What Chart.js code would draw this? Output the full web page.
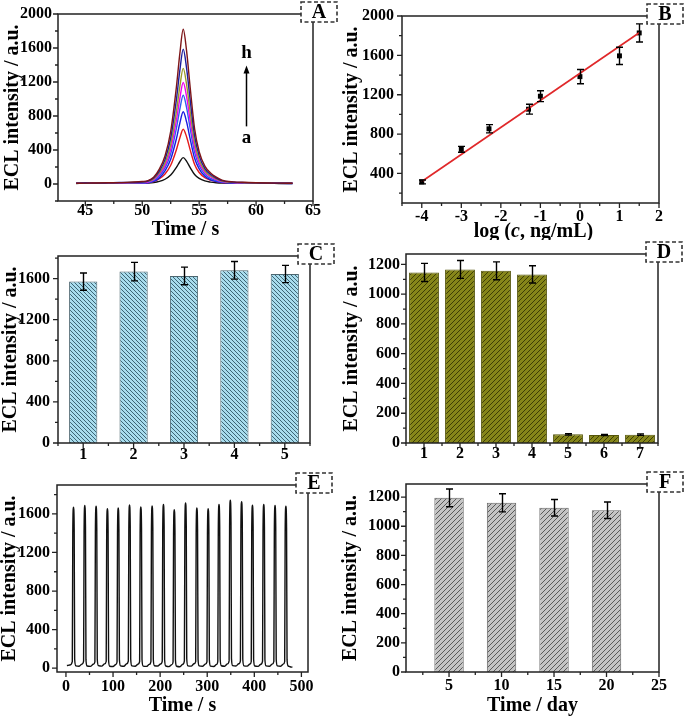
<!DOCTYPE html>
<html>
<head>
<meta charset="utf-8">
<script src="https://cdn.jsdelivr.net/npm/chart.js@4.4.1/dist/chart.umd.min.js"></script>
<style>
  body { margin: 0; background: #fff; }
  #lienzo { position: relative; width: 685px; height: 716px; overflow: hidden; }
  #lienzo canvas { position: absolute; }
</style>
</head>
<body>
<div id="lienzo">
  <canvas id="graficaA" width="340" height="240" style="left:0;top:0"></canvas>
  <canvas id="graficaB" width="345" height="240" style="left:340px;top:0"></canvas>
  <canvas id="graficaC" width="340" height="230" style="left:0;top:240px"></canvas>
  <canvas id="graficaD" width="345" height="230" style="left:340px;top:240px"></canvas>
  <canvas id="graficaE" width="340" height="246" style="left:0;top:470px"></canvas>
  <canvas id="graficaF" width="345" height="246" style="left:340px;top:470px"></canvas>
</div>
<script>
// ---------------- Datos ----------------

// Panel A: curvas ECL (a -> h)
const tiempoA = [44.2, 45, 46, 47, 48, 49, 50, 50.5, 51, 51.5, 52, 52.5, 53, 53.3, 53.6, 53.9, 54.2, 54.6, 55, 55.5, 56, 56.5, 57, 58, 59, 60, 61, 62, 63.2];
const curva_a = [6, 9, 7, 10, 12, 9, 8, 10, 16, 30, 56, 105, 195, 262, 310, 266, 196, 112, 66, 36, 22, 14, 10, 8, 9, 7, 8, 6, 5];
const curva_b = [8, 10, 9, 12, 14, 11, 12, 15, 28, 62, 117, 220, 404, 542, 645, 553, 408, 230, 135, 74, 46, 28, 18, 10, 12, 9, 8, 10, 7];
const curva_c = [7, 8, 11, 9, 13, 10, 10, 14, 30, 72, 154, 290, 532, 715, 850, 728, 537, 303, 178, 90, 50, 30, 18, 12, 11, 8, 10, 7, 6];
const curva_d = [9, 7, 10, 12, 15, 13, 12, 18, 40, 95, 189, 356, 654, 879, 1045, 896, 660, 373, 218, 115, 65, 40, 22, 14, 12, 10, 9, 8, 7];
const curva_e = [8, 10, 12, 11, 14, 16, 16, 24, 50, 115, 216, 408, 748, 1005, 1195, 1024, 755, 427, 250, 137, 85, 52, 30, 18, 13, 11, 9, 10, 8];
const curva_f = [10, 9, 12, 14, 16, 18, 20, 30, 60, 130, 246, 464, 851, 1144, 1360, 1166, 860, 486, 284, 156, 97, 60, 34, 19, 15, 12, 11, 9, 8];
const curva_g = [9, 11, 10, 13, 17, 19, 22, 34, 70, 152, 287, 540, 992, 1333, 1585, 1358, 1002, 566, 331, 182, 112, 70, 40, 22, 16, 13, 10, 9, 8];
const curva_h = [8, 10, 12, 14, 16, 22, 30, 40, 80, 175, 330, 620, 1140, 1530, 1820, 1560, 1150, 650, 380, 210, 130, 80, 45, 25, 20, 15, 12, 10, 8];
const ticksXA = [45, 50, 55, 60, 65];
const ticksYA = [0, 400, 800, 1200, 1600, 2000];

// Panel B: calibración
const logC = [-4, -3, -2.3, -1.3, -1, 0, 1, 1.5];
const eclB = [314, 645, 854, 1053, 1185, 1384, 1595, 1828];
const errB = [20, 30, 42, 50, 55, 72, 88, 92];
const ajusteX = [-4, 1.5];
const ajusteY = [318, 1830];
const ticksXB = [-4, -3, -2, -1, 0, 1, 2];
const ticksYB = [400, 800, 1200, 1600, 2000];

// Panel C: reproducibilidad
const electrodosC = [1, 2, 3, 4, 5];
const eclC = [1571, 1668, 1626, 1681, 1645];
const errC = [84, 90, 86, 86, 84];
const ticksYC = [0, 400, 800, 1200, 1600];

// Panel D: selectividad
const muestrasD = [1, 2, 3, 4, 5, 6, 7];
const eclD = [1146, 1166, 1157, 1133, 58, 54, 56];
const errD = [61, 60, 60, 58, 5, 4, 5];
const ticksYD = [0, 200, 400, 600, 800, 1000, 1200];

// Panel E: estabilidad en barridos continuos
const tiempoE = [
  2, 8,
  13.5, 14.5, 16, 17.5, 18.5, 21, 28, 34,
  37.5, 38.5, 40, 41.5, 42.5, 45, 52, 58,
  61.5, 62.5, 64, 65.5, 66.5, 69, 76, 82,
  85.5, 86.5, 88, 89.5, 90.5, 93, 100, 106,
  108.5, 109.5, 111, 112.5, 113.5, 116, 123, 129,
  132.5, 133.5, 135, 136.5, 137.5, 140, 147, 153,
  156.5, 157.5, 159, 160.5, 161.5, 164, 171, 177,
  180.5, 181.5, 183, 184.5, 185.5, 188, 195, 201,
  204.5, 205.5, 207, 208.5, 209.5, 212, 219, 225,
  227.5, 228.5, 230, 231.5, 232.5, 235, 242, 248,
  251.5, 252.5, 254, 255.5, 256.5, 259, 266, 272,
  275.5, 276.5, 278, 279.5, 280.5, 283, 290, 296,
  299.5, 300.5, 302, 303.5, 304.5, 307, 314, 320,
  322.5, 323.5, 325, 326.5, 327.5, 330, 337, 343,
  346.5, 347.5, 349, 350.5, 351.5, 354, 361, 367,
  370.5, 371.5, 373, 374.5, 375.5, 378, 385, 391,
  393.5, 394.5, 396, 397.5, 398.5, 401, 408, 414,
  417.5, 418.5, 420, 421.5, 422.5, 425, 432, 438,
  441.5, 442.5, 444, 445.5, 446.5, 449, 456, 462,
  464.5, 465.5, 467, 468.5, 469.5, 472, 476, 481
];
const senalE = [
  27, 32,
  68, 1400, 1669, 1450, 95, 24, 20, 42,
  72, 1420, 1687, 1465, 88, 22, 18, 40,
  66, 1410, 1680, 1455, 92, 26, 21, 44,
  70, 1390, 1655, 1430, 85, 20, 17, 38,
  64, 1395, 1662, 1440, 90, 24, 19, 46,
  74, 1430, 1694, 1475, 96, 23, 20, 41,
  69, 1405, 1673, 1450, 89, 21, 18, 39,
  71, 1415, 1683, 1460, 93, 25, 22, 43,
  73, 1425, 1697, 1470, 90, 22, 16, 37,
  65, 1380, 1645, 1425, 86, 20, 15, 40,
  75, 1445, 1714, 1490, 98, 24, 21, 45,
  68, 1395, 1662, 1440, 91, 23, 19, 42,
  66, 1390, 1655, 1435, 87, 21, 17, 39,
  72, 1425, 1697, 1470, 94, 25, 20, 44,
  78, 1470, 1742, 1510, 99, 26, 22, 46,
  76, 1455, 1728, 1500, 95, 24, 21, 43,
  70, 1420, 1690, 1465, 92, 22, 18, 41,
  73, 1425, 1697, 1470, 90, 23, 19, 42,
  71, 1415, 1687, 1460, 93, 24, 20, 44,
  69, 1410, 1680, 1455, 88, 22, 14, 10
];
const ticksXE = [0, 100, 200, 300, 400, 500];
const ticksYE = [0, 400, 800, 1200, 1600];

// Panel F: estabilidad en el tiempo
const diasF = [5, 10, 15, 20];
const eclF = [1195, 1161, 1127, 1110];
const errF = [61, 62, 57, 57];
const ticksXF = [5, 10, 15, 20, 25];
const ticksYF = [0, 200, 400, 600, 800, 1000, 1200];

// ---------------- Estilo general ----------------
const FAMILIA = "'Liberation Serif', 'Times New Roman', serif";
Chart.defaults.font.family = FAMILIA;
Chart.defaults.font.weight = 'bold';
Chart.defaults.color = '#000';
Chart.defaults.animation = false;
Chart.defaults.plugins.legend.display = false;
Chart.defaults.plugins.tooltip.enabled = false;

const fuenteTicks = { family: FAMILIA, size: 16, weight: 'bold', lineHeight: 1 };
const fuenteTitulo = { family: FAMILIA, size: 20, weight: 'bold', lineHeight: 1 };

// Ejes con tamaño fijo para que el área de trazado quede donde la queremos
function ejes(o) {
  return {
    x: {
      type: 'linear', min: o.xMin, max: o.xMax, offset: false,
      grid: { display: false, drawTicks: false },
      border: { display: false },
      afterBuildTicks: s => { s.ticks = o.xTicks.map(v => ({ value: v })); },
      afterFit: s => { s.height = o.altoX; },
      ticks: { padding: o.padX, font: fuenteTicks, color: '#000', maxRotation: 0, autoSkip: false, callback: v => String(v) },
      title: { display: !!o.tituloX, text: o.tituloX || '', font: fuenteTitulo, color: '#000', padding: { top: 0, bottom: 0 } }
    },
    y: {
      type: 'linear', min: o.yMin, max: o.yMax,
      grid: { display: false, drawTicks: false },
      border: { display: false },
      afterBuildTicks: s => { s.ticks = o.yTicks.map(v => ({ value: v })); },
      afterFit: s => { s.width = o.anchoY; },
      ticks: { padding: o.padY, font: fuenteTicks, color: '#000', autoSkip: false, callback: v => String(v) },
      title: { display: true, text: 'ECL intensity / a.u.', font: fuenteTitulo, color: '#000', padding: { top: o.padTituloY, bottom: 0 } }
    }
  };
}

// Marco, marcas de los ejes, barras de error y recuadro con la letra
const marcoPlugin = {
  id: 'marco',
  afterDatasetsDraw(chart, args, opts) {
    const ctx = chart.ctx, a = chart.chartArea;
    const sx = chart.scales.x, sy = chart.scales.y;
    ctx.save();
    if (opts.error) {
      const e = opts.error;
      ctx.strokeStyle = '#000';
      ctx.lineWidth = 1.4;
      e.x.forEach((xv, i) => {
        const px = Math.round(sx.getPixelForValue(xv)) + 0.5;
        const y1 = sy.getPixelForValue(e.y[i] + e.d[i]);
        const y2 = sy.getPixelForValue(e.y[i] - e.d[i]);
        ctx.beginPath();
        ctx.moveTo(px, y1); ctx.lineTo(px, y2);
        ctx.moveTo(px - 3.5, y1); ctx.lineTo(px + 3.5, y1);
        ctx.moveTo(px - 3.5, y2); ctx.lineTo(px + 3.5, y2);
        ctx.stroke();
      });
    }
    ctx.strokeStyle = '#222';
    ctx.lineWidth = 1.5;
    ctx.strokeRect(a.left, a.top, a.right - a.left, a.bottom - a.top);

    const marcas = (escala, paso, mayores, dibuja) => {
      const k0 = Math.ceil(escala.min / paso - 1e-9), k1 = Math.floor(escala.max / paso + 1e-9);
      for (let k = k0; k <= k1; k++) {
        const v = k * paso;
        const largo = mayores.some(m => Math.abs(m - v) < 1e-6) ? 5 : 3;
        dibuja(escala.getPixelForValue(v), largo);
      }
    };
    ctx.lineWidth = 1.3;
    ctx.beginPath();
    marcas(sx, opts.pasoX, opts.mayoresX, (p, l) => { ctx.moveTo(p, a.bottom); ctx.lineTo(p, a.bottom + l); });
    marcas(sy, opts.pasoY, opts.mayoresY, (p, l) => { ctx.moveTo(a.left, p); ctx.lineTo(a.left - l, p); });
    ctx.stroke();

    const bx = a.right - 12, by = a.top - 12;
    ctx.fillStyle = '#fff';
    ctx.fillRect(bx, by, 36, 20);
    ctx.setLineDash([4, 2.5]);
    ctx.lineWidth = 1.6;
    ctx.strokeStyle = '#333';
    ctx.strokeRect(bx, by, 36, 20);
    ctx.setLineDash([]);
    ctx.fillStyle = '#000';
    ctx.font = "bold 20px " + FAMILIA;
    ctx.textAlign = 'center';
    ctx.textBaseline = 'middle';
    ctx.fillText(opts.letra, bx + 18, by + 11);
    ctx.restore();
  }
};

// Flecha a -> h del panel A
const notasPlugin = {
  id: 'notas',
  afterDatasetsDraw(chart, args, o) {
    const ctx = chart.ctx, sx = chart.scales.x, sy = chart.scales.y;
    const x = Math.round(sx.getPixelForValue(o.x)) + 0.5;
    const y0 = sy.getPixelForValue(o.desde), y1 = sy.getPixelForValue(o.hasta);
    ctx.save();
    ctx.strokeStyle = '#000';
    ctx.fillStyle = '#000';
    ctx.lineWidth = 1.5;
    ctx.beginPath(); ctx.moveTo(x, y0); ctx.lineTo(x, y1 + 6); ctx.stroke();
    ctx.beginPath(); ctx.moveTo(x, y1); ctx.lineTo(x - 3, y1 + 8); ctx.lineTo(x + 3, y1 + 8); ctx.closePath(); ctx.fill();
    ctx.font = "bold 19px " + FAMILIA;
    ctx.textAlign = 'center';
    ctx.textBaseline = 'middle';
    ctx.fillText('h', x, sy.getPixelForValue(o.yH));
    ctx.fillText('a', x, sy.getPixelForValue(o.yA));
    ctx.restore();
  }
};

// Título del eje x del panel B (con la c en cursiva)
const tituloLogPlugin = {
  id: 'tituloLog',
  afterDraw(chart) {
    const ctx = chart.ctx, a = chart.chartArea;
    const partes = [['log (', 'bold'], ['c', 'italic bold'], [', ng/mL)', 'bold']];
    ctx.save();
    ctx.fillStyle = '#000';
    ctx.textBaseline = 'middle';
    ctx.textAlign = 'left';
    let total = 0;
    partes.forEach(p => { ctx.font = p[1] + ' 20px ' + FAMILIA; total += ctx.measureText(p[0]).width; });
    let x = (a.left + a.right) / 2 - total / 2 + 3;
    const y = chart.scales.x.bottom - 8;
    partes.forEach(p => {
      ctx.font = p[1] + ' 20px ' + FAMILIA;
      ctx.fillText(p[0], x, y);
      x += ctx.measureText(p[0]).width;
    });
    ctx.restore();
  }
};

// Rayado diagonal para las barras
function rayado(fondo, linea, paso, sentido) {
  const c = document.createElement('canvas');
  c.width = paso; c.height = paso;
  const g = c.getContext('2d');
  g.fillStyle = fondo;
  g.fillRect(0, 0, paso, paso);
  g.strokeStyle = linea;
  g.lineWidth = 1;
  g.beginPath();
  if (sentido === '/') {
    g.moveTo(0, paso); g.lineTo(paso, 0);
    g.moveTo(-1, 1); g.lineTo(1, -1);
    g.moveTo(paso - 1, paso + 1); g.lineTo(paso + 1, paso - 1);
  } else {
    g.moveTo(0, 0); g.lineTo(paso, paso);
    g.moveTo(-1, paso - 1); g.lineTo(1, paso + 1);
    g.moveTo(paso - 1, -1); g.lineTo(paso + 1, 1);
  }
  g.stroke();
  return g.createPattern(c, 'repeat');
}

const puntos = (xs, ys) => xs.map((x, i) => ({ x: x, y: ys[i] }));

// ---------------- Panel A ----------------
const curvasA = [
  { datos: curva_h, color: '#7d1518' },
  { datos: curva_g, color: '#1c1c9c' },
  { datos: curva_f, color: '#9a9a28' },
  { datos: curva_e, color: '#f000f0' },
  { datos: curva_d, color: '#2f5cf0' },
  { datos: curva_c, color: '#1a1ae0' },
  { datos: curva_b, color: '#e41a1a' },
  { datos: curva_a, color: '#111111' }
];
new Chart(document.getElementById('graficaA'), {
  type: 'line',
  data: {
    datasets: curvasA.map(c => ({
      data: puntos(tiempoA, c.datos),
      borderColor: c.color, borderWidth: 1.4, pointRadius: 0, cubicInterpolationMode: 'monotone'
    }))
  },
  options: {
    responsive: false,
    layout: { padding: { left: 0, top: 13, right: 27, bottom: 0 } },
    scales: ejes({ xMin: 42.6, xMax: 65, yMin: -200, yMax: 2000, xTicks: ticksXA, yTicks: ticksYA,
      altoX: 39, anchoY: 58, padX: 2, padY: 6, padTituloY: 2.5, tituloX: 'Time / s' }),
    plugins: {
      marco: { letra: 'A', pasoX: 2.5, pasoY: 200, mayoresX: ticksXA, mayoresY: ticksYA },
      notas: { x: 59.15, desde: 678, hasta: 1395, yH: 1535, yA: 545 }
    }
  },
  plugins: [marcoPlugin, notasPlugin]
});

// ---------------- Panel B ----------------
new Chart(document.getElementById('graficaB'), {
  type: 'scatter',
  data: {
    datasets: [
      { data: puntos(ajusteX, ajusteY), showLine: true, borderColor: '#e0282a', borderWidth: 1.7, pointRadius: 0 },
      { data: puntos(logC, eclB), pointStyle: 'rect', pointRadius: 3.5, backgroundColor: '#000', borderColor: '#000', borderWidth: 0 }
    ]
  },
  options: {
    responsive: false,
    layout: { padding: { left: 0, top: 13, right: 26, bottom: 0 } },
    scales: ejes({ xMin: -4.5, xMax: 2, yMin: 100, yMax: 2000, xTicks: ticksXB, yTicks: ticksYB,
      altoX: 37, anchoY: 62, padX: 6, padY: 8, padTituloY: 1.5 }),
    plugins: {
      marco: { letra: 'B', pasoX: 0.5, pasoY: 200, mayoresX: ticksXB, mayoresY: ticksYB,
        error: { x: logC, y: eclB, d: errB } }
    }
  },
  plugins: [marcoPlugin, tituloLogPlugin]
});

// ---------------- Panel C ----------------
new Chart(document.getElementById('graficaC'), {
  type: 'bar',
  data: {
    datasets: [{
      data: puntos(electrodosC, eclC),
      backgroundColor: rayado('#a8dced', '#3d6575', 4, '\\'),
      borderColor: '#4d6670', borderWidth: 1,
      barPercentage: 0.56, categoryPercentage: 1
    }]
  },
  options: {
    responsive: false,
    layout: { padding: { left: 0, top: 16, right: 30, bottom: 0 } },
    scales: ejes({ xMin: 0.5, xMax: 5.5, yMin: 0, yMax: 1820, xTicks: electrodosC, yTicks: ticksYC,
      altoX: 27, anchoY: 58, padX: 4, padY: 8, padTituloY: 1 }),
    plugins: {
      marco: { letra: 'C', pasoX: 0.5, pasoY: 200, mayoresX: electrodosC, mayoresY: ticksYC,
        error: { x: electrodosC, y: eclC, d: errC } }
    }
  },
  plugins: [marcoPlugin]
});

// ---------------- Panel D ----------------
new Chart(document.getElementById('graficaD'), {
  type: 'bar',
  data: {
    datasets: [{
      data: puntos(muestrasD, eclD),
      backgroundColor: rayado('#86861a', '#3e3e05', 5, '/'),
      borderColor: '#55550a', borderWidth: 1,
      barPercentage: 0.83, categoryPercentage: 1
    }]
  },
  options: {
    responsive: false,
    layout: { padding: { left: 0, top: 13, right: 27, bottom: 0 } },
    scales: ejes({ xMin: 0.5, xMax: 7.5, yMin: 0, yMax: 1270, xTicks: muestrasD, yTicks: ticksYD,
      altoX: 27, anchoY: 66, padX: 3, padY: 6, padTituloY: 1.5 }),
    plugins: {
      marco: { letra: 'D', pasoX: 0.5, pasoY: 100, mayoresX: muestrasD, mayoresY: ticksYD,
        error: { x: muestrasD, y: eclD, d: errD } }
    }
  },
  plugins: [marcoPlugin]
});

// ---------------- Panel E ----------------
new Chart(document.getElementById('graficaE'), {
  type: 'line',
  data: {
    datasets: [{ data: puntos(tiempoE, senalE), borderColor: '#111', borderWidth: 1.4, pointRadius: 0, cubicInterpolationMode: 'monotone' }]
  },
  options: {
    responsive: false,
    layout: { padding: { left: 0, top: 15, right: 32, bottom: 0 } },
    scales: ejes({ xMin: -19, xMax: 514, yMin: -40, yMax: 1900, xTicks: ticksXE, yTicks: ticksYE,
      altoX: 44, anchoY: 57, padX: 7, padY: 7, padTituloY: 0, tituloX: 'Time / s' }),
    plugins: {
      marco: { letra: 'E', pasoX: 50, pasoY: 200, mayoresX: ticksXE, mayoresY: ticksYE }
    }
  },
  plugins: [marcoPlugin]
});

// ---------------- Panel F ----------------
new Chart(document.getElementById('graficaF'), {
  type: 'bar',
  data: {
    datasets: [{
      data: puntos(diasF, eclF),
      backgroundColor: rayado('#c4c4c4', '#5a5a5a', 5, '/'),
      borderColor: '#666', borderWidth: 1,
      barPercentage: 0.56, categoryPercentage: 1
    }]
  },
  options: {
    responsive: false,
    layout: { padding: { left: 0, top: 14, right: 26, bottom: 0 } },
    scales: ejes({ xMin: 0.9, xMax: 25, yMin: 0, yMax: 1290, xTicks: ticksXF, yTicks: ticksYF,
      altoX: 44, anchoY: 66, padX: 6, padY: 6, padTituloY: 0.5, tituloX: 'Time / day' }),
    plugins: {
      marco: { letra: 'F', pasoX: 2.5, pasoY: 100, mayoresX: ticksXF, mayoresY: ticksYF,
        error: { x: diasF, y: eclF, d: errF } }
    }
  },
  plugins: [marcoPlugin]
});
</script>
</body>
</html>
